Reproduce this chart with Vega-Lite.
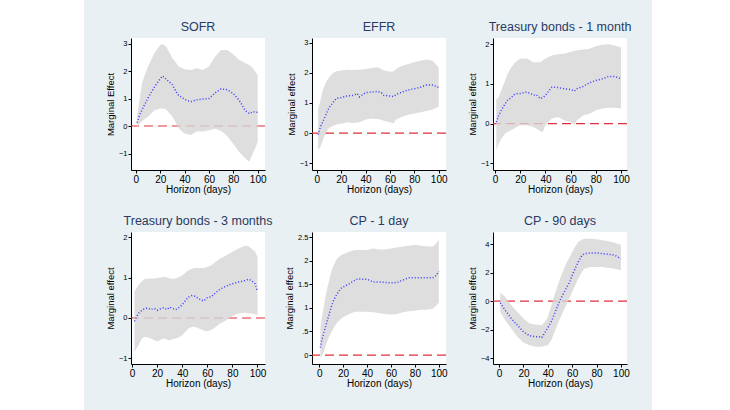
{
  "$schema": "https://vega.github.io/schema/vega-lite/v6.json",
  "background": "#e8f0f3",
  "padding": {"left": 0, "top": 0, "right": 20, "bottom": 0},
  "autosize": {"type": "pad"},
  "columns": 4,
  "spacing": {"row": 0, "column": 47},
  "bounds": "flush",
  "align": "each",
  "datasets": {
    "irf": [
      {"p": "SOFR", "h": 1, "est": 0.12, "lo": -0.03, "hi": 0.35},
      {"p": "SOFR", "h": 3, "est": 0.4, "lo": 0.08, "hi": 0.95},
      {"p": "SOFR", "h": 5, "est": 0.58, "lo": 0.16, "hi": 1.55},
      {"p": "SOFR", "h": 8, "est": 0.85, "lo": 0.28, "hi": 1.95},
      {"p": "SOFR", "h": 10, "est": 1.02, "lo": 0.34, "hi": 2.16},
      {"p": "SOFR", "h": 15, "est": 1.4, "lo": 0.56, "hi": 2.64},
      {"p": "SOFR", "h": 20, "est": 1.72, "lo": 0.64, "hi": 2.95},
      {"p": "SOFR", "h": 22, "est": 1.82, "lo": 0.64, "hi": 2.98},
      {"p": "SOFR", "h": 25, "est": 1.7, "lo": 0.6, "hi": 2.88},
      {"p": "SOFR", "h": 30, "est": 1.5, "lo": 0.34, "hi": 2.46},
      {"p": "SOFR", "h": 33, "est": 1.25, "lo": 0.1, "hi": 2.3},
      {"p": "SOFR", "h": 35, "est": 1.12, "lo": -0.08, "hi": 2.16},
      {"p": "SOFR", "h": 40, "est": 0.97, "lo": -0.27, "hi": 2.06},
      {"p": "SOFR", "h": 45, "est": 0.88, "lo": -0.33, "hi": 2.04},
      {"p": "SOFR", "h": 50, "est": 0.95, "lo": -0.2, "hi": 2.1},
      {"p": "SOFR", "h": 55, "est": 0.98, "lo": -0.2, "hi": 2.04},
      {"p": "SOFR", "h": 60, "est": 1.0, "lo": -0.15, "hi": 2.16},
      {"p": "SOFR", "h": 65, "est": 1.2, "lo": -0.1, "hi": 2.52},
      {"p": "SOFR", "h": 70, "est": 1.35, "lo": -0.18, "hi": 2.76},
      {"p": "SOFR", "h": 75, "est": 1.32, "lo": -0.36, "hi": 2.76},
      {"p": "SOFR", "h": 80, "est": 1.18, "lo": -0.65, "hi": 2.6},
      {"p": "SOFR", "h": 85, "est": 0.92, "lo": -0.95, "hi": 2.4},
      {"p": "SOFR", "h": 90, "est": 0.55, "lo": -1.18, "hi": 2.28},
      {"p": "SOFR", "h": 93, "est": 0.45, "lo": -1.3, "hi": 2.22},
      {"p": "SOFR", "h": 96, "est": 0.52, "lo": -1.0, "hi": 2.1},
      {"p": "SOFR", "h": 98, "est": 0.5, "lo": -0.8, "hi": 1.98},
      {"p": "SOFR", "h": 100, "est": 0.5, "lo": -0.57, "hi": 1.85},

      {"p": "EFFR", "h": 1, "est": -0.05, "lo": -0.56, "hi": 0.78},
      {"p": "EFFR", "h": 3, "est": 0.22, "lo": -0.45, "hi": 1.1},
      {"p": "EFFR", "h": 5, "est": 0.39, "lo": -0.22, "hi": 1.45},
      {"p": "EFFR", "h": 8, "est": 0.67, "lo": 0.06, "hi": 1.73},
      {"p": "EFFR", "h": 10, "est": 0.84, "lo": 0.17, "hi": 1.84},
      {"p": "EFFR", "h": 13, "est": 1.0, "lo": 0.24, "hi": 1.98},
      {"p": "EFFR", "h": 16, "est": 1.15, "lo": 0.29, "hi": 2.05},
      {"p": "EFFR", "h": 20, "est": 1.18, "lo": 0.31, "hi": 2.07},
      {"p": "EFFR", "h": 25, "est": 1.23, "lo": 0.36, "hi": 2.1},
      {"p": "EFFR", "h": 30, "est": 1.25, "lo": 0.34, "hi": 2.09},
      {"p": "EFFR", "h": 33, "est": 1.31, "lo": 0.35, "hi": 2.1},
      {"p": "EFFR", "h": 35, "est": 1.2, "lo": 0.36, "hi": 2.1},
      {"p": "EFFR", "h": 40, "est": 1.34, "lo": 0.45, "hi": 2.12},
      {"p": "EFFR", "h": 45, "est": 1.36, "lo": 0.48, "hi": 2.16},
      {"p": "EFFR", "h": 50, "est": 1.38, "lo": 0.47, "hi": 2.18},
      {"p": "EFFR", "h": 53, "est": 1.34, "lo": 0.44, "hi": 2.12},
      {"p": "EFFR", "h": 55, "est": 1.25, "lo": 0.41, "hi": 2.07},
      {"p": "EFFR", "h": 60, "est": 1.23, "lo": 0.36, "hi": 2.03},
      {"p": "EFFR", "h": 63, "est": 1.21, "lo": 0.33, "hi": 2.05},
      {"p": "EFFR", "h": 65, "est": 1.28, "lo": 0.45, "hi": 2.12},
      {"p": "EFFR", "h": 70, "est": 1.36, "lo": 0.54, "hi": 2.23},
      {"p": "EFFR", "h": 75, "est": 1.43, "lo": 0.61, "hi": 2.29},
      {"p": "EFFR", "h": 80, "est": 1.47, "lo": 0.65, "hi": 2.35},
      {"p": "EFFR", "h": 85, "est": 1.52, "lo": 0.69, "hi": 2.4},
      {"p": "EFFR", "h": 90, "est": 1.59, "lo": 0.73, "hi": 2.44},
      {"p": "EFFR", "h": 95, "est": 1.59, "lo": 0.78, "hi": 2.4},
      {"p": "EFFR", "h": 100, "est": 1.51, "lo": 0.87, "hi": 2.18},

      {"p": "T1M", "h": 1, "est": 0.04, "lo": -0.67, "hi": 0.61},
      {"p": "T1M", "h": 3, "est": 0.21, "lo": -0.5, "hi": 0.67},
      {"p": "T1M", "h": 5, "est": 0.34, "lo": -0.38, "hi": 0.84},
      {"p": "T1M", "h": 8, "est": 0.5, "lo": -0.25, "hi": 1.09},
      {"p": "T1M", "h": 10, "est": 0.59, "lo": -0.21, "hi": 1.26},
      {"p": "T1M", "h": 13, "est": 0.66, "lo": -0.16, "hi": 1.42},
      {"p": "T1M", "h": 15, "est": 0.73, "lo": -0.13, "hi": 1.51},
      {"p": "T1M", "h": 18, "est": 0.76, "lo": -0.07, "hi": 1.6},
      {"p": "T1M", "h": 20, "est": 0.76, "lo": -0.04, "hi": 1.64},
      {"p": "T1M", "h": 25, "est": 0.8, "lo": -0.04, "hi": 1.64},
      {"p": "T1M", "h": 28, "est": 0.76, "lo": -0.06, "hi": 1.6},
      {"p": "T1M", "h": 30, "est": 0.72, "lo": -0.08, "hi": 1.55},
      {"p": "T1M", "h": 33, "est": 0.72, "lo": -0.13, "hi": 1.55},
      {"p": "T1M", "h": 36, "est": 0.63, "lo": -0.19, "hi": 1.55},
      {"p": "T1M", "h": 38, "est": 0.66, "lo": -0.21, "hi": 1.6},
      {"p": "T1M", "h": 40, "est": 0.71, "lo": -0.04, "hi": 1.64},
      {"p": "T1M", "h": 45, "est": 0.92, "lo": 0.13, "hi": 1.72},
      {"p": "T1M", "h": 50, "est": 0.91, "lo": 0.17, "hi": 1.75},
      {"p": "T1M", "h": 55, "est": 0.88, "lo": 0.08, "hi": 1.76},
      {"p": "T1M", "h": 60, "est": 0.86, "lo": 0.04, "hi": 1.81},
      {"p": "T1M", "h": 63, "est": 0.82, "lo": -0.02, "hi": 1.83},
      {"p": "T1M", "h": 65, "est": 0.88, "lo": 0.08, "hi": 1.85},
      {"p": "T1M", "h": 70, "est": 0.94, "lo": 0.21, "hi": 1.87},
      {"p": "T1M", "h": 75, "est": 1.03, "lo": 0.25, "hi": 1.89},
      {"p": "T1M", "h": 80, "est": 1.09, "lo": 0.34, "hi": 1.95},
      {"p": "T1M", "h": 85, "est": 1.13, "lo": 0.38, "hi": 1.99},
      {"p": "T1M", "h": 90, "est": 1.19, "lo": 0.4, "hi": 2.0},
      {"p": "T1M", "h": 95, "est": 1.19, "lo": 0.4, "hi": 1.97},
      {"p": "T1M", "h": 100, "est": 1.13, "lo": 0.38, "hi": 1.92},

      {"p": "T3M", "h": 2, "est": -0.08, "lo": -0.84, "hi": 0.66},
      {"p": "T3M", "h": 5, "est": 0.11, "lo": -0.68, "hi": 0.81},
      {"p": "T3M", "h": 8, "est": 0.19, "lo": -0.51, "hi": 0.91},
      {"p": "T3M", "h": 10, "est": 0.23, "lo": -0.47, "hi": 0.96},
      {"p": "T3M", "h": 12, "est": 0.25, "lo": -0.48, "hi": 0.97},
      {"p": "T3M", "h": 15, "est": 0.21, "lo": -0.51, "hi": 0.98},
      {"p": "T3M", "h": 18, "est": 0.23, "lo": -0.55, "hi": 0.98},
      {"p": "T3M", "h": 20, "est": 0.19, "lo": -0.58, "hi": 0.99},
      {"p": "T3M", "h": 23, "est": 0.23, "lo": -0.54, "hi": 1.0},
      {"p": "T3M", "h": 25, "est": 0.25, "lo": -0.51, "hi": 1.02},
      {"p": "T3M", "h": 28, "est": 0.21, "lo": -0.53, "hi": 1.0},
      {"p": "T3M", "h": 30, "est": 0.27, "lo": -0.55, "hi": 0.98},
      {"p": "T3M", "h": 33, "est": 0.23, "lo": -0.52, "hi": 0.97},
      {"p": "T3M", "h": 35, "est": 0.21, "lo": -0.51, "hi": 0.98},
      {"p": "T3M", "h": 38, "est": 0.27, "lo": -0.47, "hi": 1.02},
      {"p": "T3M", "h": 40, "est": 0.33, "lo": -0.43, "hi": 1.06},
      {"p": "T3M", "h": 45, "est": 0.52, "lo": -0.26, "hi": 1.18},
      {"p": "T3M", "h": 48, "est": 0.56, "lo": -0.22, "hi": 1.22},
      {"p": "T3M", "h": 50, "est": 0.54, "lo": -0.22, "hi": 1.24},
      {"p": "T3M", "h": 55, "est": 0.45, "lo": -0.28, "hi": 1.24},
      {"p": "T3M", "h": 57, "est": 0.42, "lo": -0.31, "hi": 1.24},
      {"p": "T3M", "h": 60, "est": 0.5, "lo": -0.33, "hi": 1.26},
      {"p": "T3M", "h": 63, "est": 0.52, "lo": -0.3, "hi": 1.3},
      {"p": "T3M", "h": 65, "est": 0.58, "lo": -0.26, "hi": 1.35},
      {"p": "T3M", "h": 70, "est": 0.71, "lo": -0.14, "hi": 1.47},
      {"p": "T3M", "h": 75, "est": 0.79, "lo": -0.06, "hi": 1.55},
      {"p": "T3M", "h": 80, "est": 0.85, "lo": 0.05, "hi": 1.64},
      {"p": "T3M", "h": 85, "est": 0.89, "lo": 0.11, "hi": 1.72},
      {"p": "T3M", "h": 90, "est": 0.93, "lo": 0.13, "hi": 1.79},
      {"p": "T3M", "h": 93, "est": 0.96, "lo": 0.12, "hi": 1.78},
      {"p": "T3M", "h": 95, "est": 0.93, "lo": 0.11, "hi": 1.72},
      {"p": "T3M", "h": 98, "est": 0.85, "lo": 0.09, "hi": 1.65},
      {"p": "T3M", "h": 100, "est": 0.66, "lo": 0.07, "hi": 1.51},

      {"p": "CP1", "h": 1, "est": 0.16, "lo": -0.06, "hi": 0.55},
      {"p": "CP1", "h": 2, "est": 0.3, "lo": -0.03, "hi": 0.75},
      {"p": "CP1", "h": 4, "est": 0.48, "lo": 0.08, "hi": 1.05},
      {"p": "CP1", "h": 6, "est": 0.66, "lo": 0.24, "hi": 1.33},
      {"p": "CP1", "h": 8, "est": 0.84, "lo": 0.37, "hi": 1.55},
      {"p": "CP1", "h": 10, "est": 1.01, "lo": 0.48, "hi": 1.76},
      {"p": "CP1", "h": 12, "est": 1.16, "lo": 0.57, "hi": 1.9},
      {"p": "CP1", "h": 15, "est": 1.3, "lo": 0.69, "hi": 2.05},
      {"p": "CP1", "h": 18, "est": 1.41, "lo": 0.76, "hi": 2.11},
      {"p": "CP1", "h": 20, "est": 1.44, "lo": 0.8, "hi": 2.14},
      {"p": "CP1", "h": 25, "est": 1.51, "lo": 0.87, "hi": 2.19},
      {"p": "CP1", "h": 30, "est": 1.59, "lo": 0.92, "hi": 2.23},
      {"p": "CP1", "h": 33, "est": 1.62, "lo": 0.92, "hi": 2.23},
      {"p": "CP1", "h": 35, "est": 1.61, "lo": 0.92, "hi": 2.23},
      {"p": "CP1", "h": 40, "est": 1.61, "lo": 0.92, "hi": 2.23},
      {"p": "CP1", "h": 45, "est": 1.55, "lo": 0.91, "hi": 2.26},
      {"p": "CP1", "h": 50, "est": 1.55, "lo": 0.89, "hi": 2.24},
      {"p": "CP1", "h": 55, "est": 1.54, "lo": 0.87, "hi": 2.24},
      {"p": "CP1", "h": 60, "est": 1.53, "lo": 0.86, "hi": 2.26},
      {"p": "CP1", "h": 65, "est": 1.54, "lo": 0.87, "hi": 2.28},
      {"p": "CP1", "h": 70, "est": 1.59, "lo": 0.91, "hi": 2.3},
      {"p": "CP1", "h": 75, "est": 1.64, "lo": 0.93, "hi": 2.32},
      {"p": "CP1", "h": 80, "est": 1.64, "lo": 0.94, "hi": 2.34},
      {"p": "CP1", "h": 85, "est": 1.64, "lo": 0.96, "hi": 2.32},
      {"p": "CP1", "h": 90, "est": 1.64, "lo": 0.96, "hi": 2.3},
      {"p": "CP1", "h": 95, "est": 1.64, "lo": 0.98, "hi": 2.3},
      {"p": "CP1", "h": 98, "est": 1.69, "lo": 1.05, "hi": 2.37},
      {"p": "CP1", "h": 100, "est": 1.78, "lo": 1.12, "hi": 2.44},

      {"p": "CP90", "h": 1, "est": -0.12, "lo": -0.75, "hi": 0.61},
      {"p": "CP90", "h": 5, "est": -0.63, "lo": -1.33, "hi": 0.3},
      {"p": "CP90", "h": 10, "est": -1.21, "lo": -1.91, "hi": -0.28},
      {"p": "CP90", "h": 15, "est": -1.68, "lo": -2.49, "hi": -0.75},
      {"p": "CP90", "h": 20, "est": -2.14, "lo": -2.89, "hi": -1.21},
      {"p": "CP90", "h": 25, "est": -2.42, "lo": -3.08, "hi": -1.56},
      {"p": "CP90", "h": 30, "est": -2.49, "lo": -3.19, "hi": -1.63},
      {"p": "CP90", "h": 33, "est": -2.49, "lo": -3.19, "hi": -1.66},
      {"p": "CP90", "h": 35, "est": -2.56, "lo": -3.19, "hi": -1.68},
      {"p": "CP90", "h": 38, "est": -2.14, "lo": -3.12, "hi": -1.4},
      {"p": "CP90", "h": 40, "est": -1.86, "lo": -3.08, "hi": -1.1},
      {"p": "CP90", "h": 43, "est": -1.4, "lo": -2.7, "hi": -0.28},
      {"p": "CP90", "h": 45, "est": -0.98, "lo": -2.26, "hi": 0.3},
      {"p": "CP90", "h": 50, "est": 0.07, "lo": -1.21, "hi": 1.59},
      {"p": "CP90", "h": 55, "est": 0.89, "lo": -0.28, "hi": 2.63},
      {"p": "CP90", "h": 58, "est": 1.35, "lo": 0.28, "hi": 3.1},
      {"p": "CP90", "h": 60, "est": 1.82, "lo": 0.65, "hi": 3.45},
      {"p": "CP90", "h": 63, "est": 2.4, "lo": 1.2, "hi": 3.9},
      {"p": "CP90", "h": 65, "est": 2.75, "lo": 1.59, "hi": 4.15},
      {"p": "CP90", "h": 68, "est": 3.22, "lo": 2.05, "hi": 4.3},
      {"p": "CP90", "h": 70, "est": 3.33, "lo": 2.28, "hi": 4.38},
      {"p": "CP90", "h": 75, "est": 3.38, "lo": 2.4, "hi": 4.38},
      {"p": "CP90", "h": 80, "est": 3.38, "lo": 2.4, "hi": 4.34},
      {"p": "CP90", "h": 85, "est": 3.33, "lo": 2.4, "hi": 4.27},
      {"p": "CP90", "h": 90, "est": 3.29, "lo": 2.33, "hi": 4.2},
      {"p": "CP90", "h": 95, "est": 3.22, "lo": 2.28, "hi": 4.1},
      {"p": "CP90", "h": 100, "est": 2.98, "lo": 2.17, "hi": 3.96}
    ]
  },
  "concat": [
    {"width": 84, "height": 38, "data": {"values": [{}]}, "mark": {"type": "point", "opacity": 0}, "view": {"fill": "white", "stroke": null}},
    {"width": 134, "height": 38, "data": {"values": [{}]}, "mark": {"type": "point", "opacity": 0}, "view": {"stroke": null}},
    {"width": 134, "height": 38, "data": {"values": [{}]}, "mark": {"type": "point", "opacity": 0}, "view": {"stroke": null}},
    {"width": 134, "height": 38, "data": {"values": [{}]}, "mark": {"type": "point", "opacity": 0}, "view": {"stroke": null}},

    {"width": 84, "height": 194, "data": {"values": [{}]}, "mark": {"type": "point", "opacity": 0}, "view": {"fill": "white", "stroke": null}},
    {
      "width": 134, "height": 132,
      "title": "SOFR",
      "view": {"fill": "white", "stroke": null},
      "data": {"name": "irf"},
      "transform": [{"filter": "datum.p == 'SOFR'"}],
      "layer": [
        {"data": {"values": [{"z": 0}]}, "mark": {"type": "rule", "color": "#e0303c", "strokeWidth": 1.2, "strokeDash": [9, 5]}, "encoding": {"y": {"field": "z", "type": "quantitative"}}},
        {"mark": {"type": "area", "color": "#d6d6d6", "opacity": 0.8},
         "encoding": {
           "x": {"field": "h", "type": "quantitative", "scale": {"domain": [-4, 106], "nice": false, "zero": false}, "axis": {"values": [0, 20, 40, 60, 80, 100], "tickCount": 20, "format": "d", "title": "Horizon (days)"}},
           "y": {"field": "lo", "type": "quantitative", "scale": {"domain": [-1.6, 3.2], "nice": false}, "axis": {"values": [-1, 0, 1, 2, 3], "tickCount": 20, "format": "~g", "title": "Marginal Effect"}},
           "y2": {"field": "hi"}}},
        {"mark": {"type": "line", "color": "#3a3aff", "strokeWidth": 1.5, "strokeDash": [1, 2]},
         "encoding": {"x": {"field": "h", "type": "quantitative"}, "y": {"field": "est", "type": "quantitative"}}}
      ]
    },
    {
      "width": 134, "height": 132,
      "title": "EFFR",
      "view": {"fill": "white", "stroke": null},
      "data": {"name": "irf"},
      "transform": [{"filter": "datum.p == 'EFFR'"}],
      "layer": [
        {"data": {"values": [{"z": 0}]}, "mark": {"type": "rule", "color": "#e0303c", "strokeWidth": 1.2, "strokeDash": [9, 5]}, "encoding": {"y": {"field": "z", "type": "quantitative"}}},
        {"mark": {"type": "area", "color": "#d6d6d6", "opacity": 0.8},
         "encoding": {
           "x": {"field": "h", "type": "quantitative", "scale": {"domain": [-4, 106], "nice": false, "zero": false}, "axis": {"values": [0, 20, 40, 60, 80, 100], "tickCount": 20, "format": "d", "title": "Horizon (days)"}},
           "y": {"field": "lo", "type": "quantitative", "scale": {"domain": [-1.22, 3.15], "nice": false}, "axis": {"values": [-1, 0, 1, 2, 3], "tickCount": 20, "format": "~g", "title": "Marginal effect"}},
           "y2": {"field": "hi"}}},
        {"mark": {"type": "line", "color": "#3a3aff", "strokeWidth": 1.5, "strokeDash": [1, 2]},
         "encoding": {"x": {"field": "h", "type": "quantitative"}, "y": {"field": "est", "type": "quantitative"}}}
      ]
    },
    {
      "width": 134, "height": 132,
      "title": "Treasury bonds - 1 month",
      "view": {"fill": "white", "stroke": null},
      "data": {"name": "irf"},
      "transform": [{"filter": "datum.p == 'T1M'"}],
      "layer": [
        {"data": {"values": [{"z": 0}]}, "mark": {"type": "rule", "color": "#e0303c", "strokeWidth": 1.2, "strokeDash": [9, 5]}, "encoding": {"y": {"field": "z", "type": "quantitative"}}},
        {"mark": {"type": "area", "color": "#d6d6d6", "opacity": 0.8},
         "encoding": {
           "x": {"field": "h", "type": "quantitative", "scale": {"domain": [-1.6, 104.7], "nice": false, "zero": false}, "axis": {"values": [0, 20, 40, 60, 80, 100], "tickCount": 20, "format": "d", "title": "Horizon (days)"}},
           "y": {"field": "lo", "type": "quantitative", "scale": {"domain": [-1.17, 2.16], "nice": false}, "axis": {"values": [-1, 0, 1, 2], "tickCount": 20, "format": "~g", "title": "Marginal effect"}},
           "y2": {"field": "hi"}}},
        {"mark": {"type": "line", "color": "#3a3aff", "strokeWidth": 1.5, "strokeDash": [1, 2]},
         "encoding": {"x": {"field": "h", "type": "quantitative"}, "y": {"field": "est", "type": "quantitative"}}}
      ]
    },

    {"width": 84, "height": 178, "data": {"values": [{}]}, "mark": {"type": "point", "opacity": 0}, "view": {"fill": "white", "stroke": null}},
    {
      "width": 134, "height": 132,
      "title": "Treasury bonds - 3 months",
      "view": {"fill": "white", "stroke": null},
      "data": {"name": "irf"},
      "transform": [{"filter": "datum.p == 'T3M'"}],
      "layer": [
        {"data": {"values": [{"z": 0}]}, "mark": {"type": "rule", "color": "#e0303c", "strokeWidth": 1.2, "strokeDash": [9, 5]}, "encoding": {"y": {"field": "z", "type": "quantitative"}}},
        {"mark": {"type": "area", "color": "#d6d6d6", "opacity": 0.8},
         "encoding": {
           "x": {"field": "h", "type": "quantitative", "scale": {"domain": [-0.8, 106], "nice": false, "zero": false}, "axis": {"values": [0, 20, 40, 60, 80, 100], "tickCount": 20, "format": "d", "title": "Horizon (days)"}},
           "y": {"field": "lo", "type": "quantitative", "scale": {"domain": [-1.14, 2.13], "nice": false}, "axis": {"values": [-1, 0, 1, 2], "tickCount": 20, "format": "~g", "title": "Marginal effect"}},
           "y2": {"field": "hi"}}},
        {"mark": {"type": "line", "color": "#3a3aff", "strokeWidth": 1.5, "strokeDash": [1, 2]},
         "encoding": {"x": {"field": "h", "type": "quantitative"}, "y": {"field": "est", "type": "quantitative"}}}
      ]
    },
    {
      "width": 134, "height": 132,
      "title": "CP - 1 day",
      "view": {"fill": "white", "stroke": null},
      "data": {"name": "irf"},
      "transform": [{"filter": "datum.p == 'CP1'"}],
      "layer": [
        {"data": {"values": [{"z": 0}]}, "mark": {"type": "rule", "color": "#e0303c", "strokeWidth": 1.2, "strokeDash": [9, 5]}, "encoding": {"y": {"field": "z", "type": "quantitative"}}},
        {"mark": {"type": "area", "color": "#d6d6d6", "opacity": 0.8},
         "encoding": {
           "x": {"field": "h", "type": "quantitative", "scale": {"domain": [-6, 106], "nice": false, "zero": false}, "axis": {"values": [0, 20, 40, 60, 80, 100], "tickCount": 20, "format": "d", "title": "Horizon (days)"}},
           "y": {"field": "lo", "type": "quantitative", "scale": {"domain": [-0.19, 2.61], "nice": false}, "axis": {"values": [0, 0.5, 1, 1.5, 2, 2.5], "tickCount": 20, "format": "~g", "title": "Marginal effect", "labelExpr": "datum.value == 0.5 ? '.5' : datum.label"}},
           "y2": {"field": "hi"}}},
        {"mark": {"type": "line", "color": "#3a3aff", "strokeWidth": 1.5, "strokeDash": [1, 2]},
         "encoding": {"x": {"field": "h", "type": "quantitative"}, "y": {"field": "est", "type": "quantitative"}}}
      ]
    },
    {
      "width": 134, "height": 132,
      "title": "CP - 90 days",
      "view": {"fill": "white", "stroke": null},
      "data": {"name": "irf"},
      "transform": [{"filter": "datum.p == 'CP90'"}],
      "layer": [
        {"data": {"values": [{"z": 0}]}, "mark": {"type": "rule", "color": "#e0303c", "strokeWidth": 1.2, "strokeDash": [9, 5]}, "encoding": {"y": {"field": "z", "type": "quantitative"}}},
        {"mark": {"type": "area", "color": "#d6d6d6", "opacity": 0.8},
         "encoding": {
           "x": {"field": "h", "type": "quantitative", "scale": {"domain": [-5, 105], "nice": false, "zero": false}, "axis": {"values": [0, 20, 40, 60, 80, 100], "tickCount": 20, "format": "d", "title": "Horizon (days)"}},
           "y": {"field": "lo", "type": "quantitative", "scale": {"domain": [-4.4, 4.85], "nice": false}, "axis": {"values": [-4, -2, 0, 2, 4], "tickCount": 20, "format": "~g", "title": "Marginal effect"}},
           "y2": {"field": "hi"}}},
        {"mark": {"type": "line", "color": "#3a3aff", "strokeWidth": 1.5, "strokeDash": [1, 2]},
         "encoding": {"x": {"field": "h", "type": "quantitative"}, "y": {"field": "est", "type": "quantitative"}}}
      ]
    }
  ],
  "config": {
    "font": "Liberation Sans",
    "title": {"fontSize": 12.5, "fontWeight": "normal", "color": "#2a3a63", "offset": 5, "font": "Liberation Sans"},
    "style": {"group-title": {"fontSize": 12.5, "fontWeight": "normal", "fill": "#2a3a63", "font": "Liberation Sans"}},
    "axis": {
      "grid": false,
      "domainColor": "black",
      "tickColor": "black",
      "labelColor": "black",
      "titleColor": "black",
      "tickSize": 3,
      "labelPadding": 1,
      "labelOverlap": false,
      "labelFlush": false,
      "titleFontWeight": "normal",
      "labelFont": "Liberation Sans",
      "titleFont": "Liberation Sans"
    },
    "axisX": {"labelFontSize": 10, "titleFontSize": 10, "titlePadding": 0},
    "axisY": {"labelFontSize": 7.5, "titleFontSize": 9.5, "titlePadding": 3}
  }
}
